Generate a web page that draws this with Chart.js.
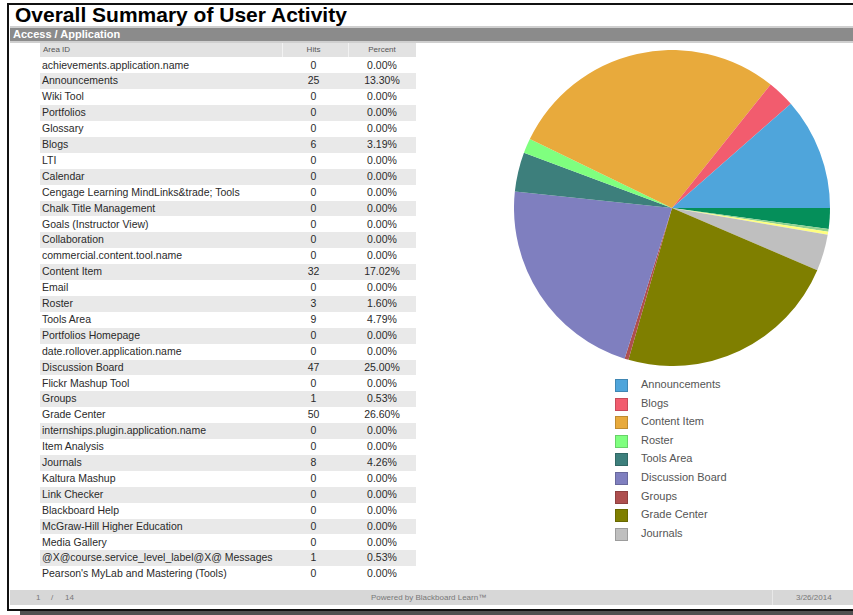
<!DOCTYPE html>
<html>
<head>
<meta charset="utf-8">
<script src="https://cdn.jsdelivr.net/npm/chart.js@4.4.1/dist/chart.umd.min.js"></script>
<style>
  html, body { margin:0; padding:0; background:#fff; width:853px; height:615px; overflow:hidden;
    font-family:"Liberation Sans", Arial, sans-serif; }
  .abs { position:absolute; }
  #title { left:15px; top:4px; font-size:21px; line-height:21px; font-weight:bold; color:#000; white-space:nowrap; }
  #sect { left:10px; top:26px; width:843px; height:13px; background:#8b8b8b;
    border-top:2px solid #cfcfcf; border-bottom:2px solid #cfcfcf; }
  #sectText { left:13px; top:27px; font-size:11px; line-height:14px; font-weight:bold; color:#fff; white-space:nowrap; }
  .row { position:absolute; left:40px; width:376px; height:15.9px; }
  .row.alt { background:#e9e9e9; }
  .cell { position:absolute; top:0; font-size:10.5px; line-height:15.9px; color:#2a2a2a; white-space:nowrap; }
  .hdr { position:absolute; top:0; font-size:8px; line-height:14.5px; color:#555; white-space:nowrap; }
  #legend .item { position:absolute; left:615px; height:13px; }
  #legend .sw { position:absolute; left:0; top:0; width:11px; height:11px; border:1px solid rgba(0,0,0,0.18); }
  #legend .lt { position:absolute; left:26px; top:-1px; font-size:11px; line-height:13px; color:#555; white-space:nowrap; }
  .foot { position:absolute; top:590px; font-size:8px; line-height:15px; color:#777; white-space:nowrap; }
</style>
</head>
<body>
<!-- frame -->
<div class="abs" style="left:8px;top:3px;width:845px;height:2px;background:#111"></div>
<div class="abs" style="left:7px;top:3px;width:2px;height:608px;background:#111"></div>
<div class="abs" style="left:8px;top:609px;width:845px;height:2px;background:#111"></div>
<div class="abs" style="left:20px;top:611px;width:833px;height:4px;background:#505050"></div>

<div id="title" class="abs">Overall Summary of User Activity</div>
<div id="sect" class="abs"></div>
<div id="sectText" class="abs">Access / Application</div>

<div id="table"></div>

<canvas id="pie" class="abs" width="316" height="316" style="left:514px;top:50px;width:316px;height:316px"></canvas>
<div id="legend"></div>

<!-- footer -->
<div class="abs" style="left:10px;top:590px;width:843px;height:15px;background:#d7d7d7"></div>
<div class="abs" style="left:772px;top:590px;width:1px;height:15px;background:#e8e8e8"></div>
<div class="foot" style="left:36px">1</div>
<div class="foot" style="left:51px">/</div>
<div class="foot" style="left:65px">14</div>
<div class="foot" style="left:371px">Powered by Blackboard Learn™</div>
<div class="foot" style="left:796px">3/26/2014</div>

<script>
// ---------- table data ----------
const headers = ["Area ID", "Hits", "Percent"];
const areaIds = [
  "achievements.application.name", "Announcements", "Wiki Tool", "Portfolios", "Glossary",
  "Blogs", "LTI", "Calendar", "Cengage Learning MindLinks&trade; Tools", "Chalk Title Management",
  "Goals (Instructor View)", "Collaboration", "commercial.content.tool.name", "Content Item", "Email",
  "Roster", "Tools Area", "Portfolios Homepage", "date.rollover.application.name", "Discussion Board",
  "Flickr Mashup Tool", "Groups", "Grade Center", "internships.plugin.application.name", "Item Analysis",
  "Journals", "Kaltura Mashup", "Link Checker", "Blackboard Help", "McGraw-Hill Higher Education",
  "Media Gallery", "@X@course.service_level_label@X@ Messages", "Pearson's MyLab and Mastering (Tools)"
];
const hits = [0,25,0,0,0, 6,0,0,0,0, 0,0,0,32,0, 3,9,0,0,47, 0,1,50,0,0, 8,0,0,0,0, 0,1,0];
const percents = [
  "0.00%","13.30%","0.00%","0.00%","0.00%",
  "3.19%","0.00%","0.00%","0.00%","0.00%",
  "0.00%","0.00%","0.00%","17.02%","0.00%",
  "1.60%","4.79%","0.00%","0.00%","25.00%",
  "0.00%","0.53%","26.60%","0.00%","0.00%",
  "4.26%","0.00%","0.00%","0.00%","0.00%",
  "0.00%","0.53%","0.00%"
];

// ---------- pie data (slice shares as drawn, counter-clockwise from 3 o'clock) ----------
const pieLabels = ["Announcements","Blogs","Content Item","Roster","Tools Area",
  "Discussion Board","Groups","Grade Center","Journals","","",""];
const pieValues = [11.4, 2.8, 28.4, 1.5, 4.0, 21.7, 0.4, 22.9, 3.7, 0.3, 0.3, 2.1];
const pieColors = ["#4fa5db","#f25c6e","#e8aa3c","#7fff7f","#3d7f7c",
  "#7f7fbf","#ae4f4f","#7f7f00","#bfbfbf","#ffff7f","#8fd18f","#058f5a"];

// ---------- build table ----------
(function(){
  const t = document.getElementById('table');
  const hdr = document.createElement('div');
  hdr.className = 'abs';
  hdr.style.cssText = 'left:40px;top:42.5px;width:376px;height:14.5px;background:#e2e2e2;';
  hdr.innerHTML =
    '<div style="position:absolute;left:242px;top:0;width:1px;height:14.5px;background:#f2f2f2"></div>' +
    '<div style="position:absolute;left:308px;top:0;width:1px;height:14.5px;background:#f2f2f2"></div>' +
    '<div class="hdr" style="left:3px">' + headers[0] + '</div>' +
    '<div class="hdr" style="left:240px;width:67px;text-align:center">' + headers[1] + '</div>' +
    '<div class="hdr" style="left:308px;width:68px;text-align:center">' + headers[2] + '</div>';
  t.appendChild(hdr);
  areaIds.forEach((name, i) => {
    const r = document.createElement('div');
    r.className = 'row' + (i % 2 === 1 ? ' alt' : '');
    r.style.top = (57.5 + i * 15.9) + 'px';
    const c1 = document.createElement('div');
    c1.className = 'cell'; c1.style.left = '2px'; c1.textContent = name;
    const c2 = document.createElement('div');
    c2.className = 'cell'; c2.style.left = '240px'; c2.style.width = '67px'; c2.style.textAlign = 'center';
    c2.textContent = String(hits[i]);
    const c3 = document.createElement('div');
    c3.className = 'cell'; c3.style.left = '308px'; c3.style.width = '68px'; c3.style.textAlign = 'center';
    c3.textContent = percents[i];
    r.appendChild(c1); r.appendChild(c2); r.appendChild(c3);
    t.appendChild(r);
  });
})();

// ---------- pie (reversed so that Chart.js's clockwise drawing matches the counter-clockwise original) ----------
const order = pieValues.map((_, i) => i).reverse();
const chart = new Chart(document.getElementById('pie'), {
  type: 'pie',
  data: {
    labels: order.map(i => pieLabels[i]),
    datasets: [{
      data: order.map(i => pieValues[i]),
      backgroundColor: order.map(i => pieColors[i]),
      borderWidth: 0,
      hoverOffset: 0
    }]
  },
  options: {
    responsive: false,
    animation: false,
    rotation: 90,
    layout: { padding: 0 },
    plugins: { legend: { display: false }, tooltip: { enabled: false } }
  }
});

// ---------- legend (from chart data, labelled slices only, original order) ----------
(function(){
  const lg = document.getElementById('legend');
  const labels = chart.data.labels.slice().reverse();
  const colors = chart.data.datasets[0].backgroundColor.slice().reverse();
  let k = 0;
  labels.forEach((lab, i) => {
    if (!lab) return;
    const it = document.createElement('div');
    it.className = 'item';
    it.style.top = (379 + k * 18.6) + 'px';
    it.innerHTML = '<div class="sw" style="background:' + colors[i] + '"></div><div class="lt"></div>';
    it.querySelector('.lt').textContent = lab;
    lg.appendChild(it);
    k++;
  });
})();
</script>
</body>
</html>
